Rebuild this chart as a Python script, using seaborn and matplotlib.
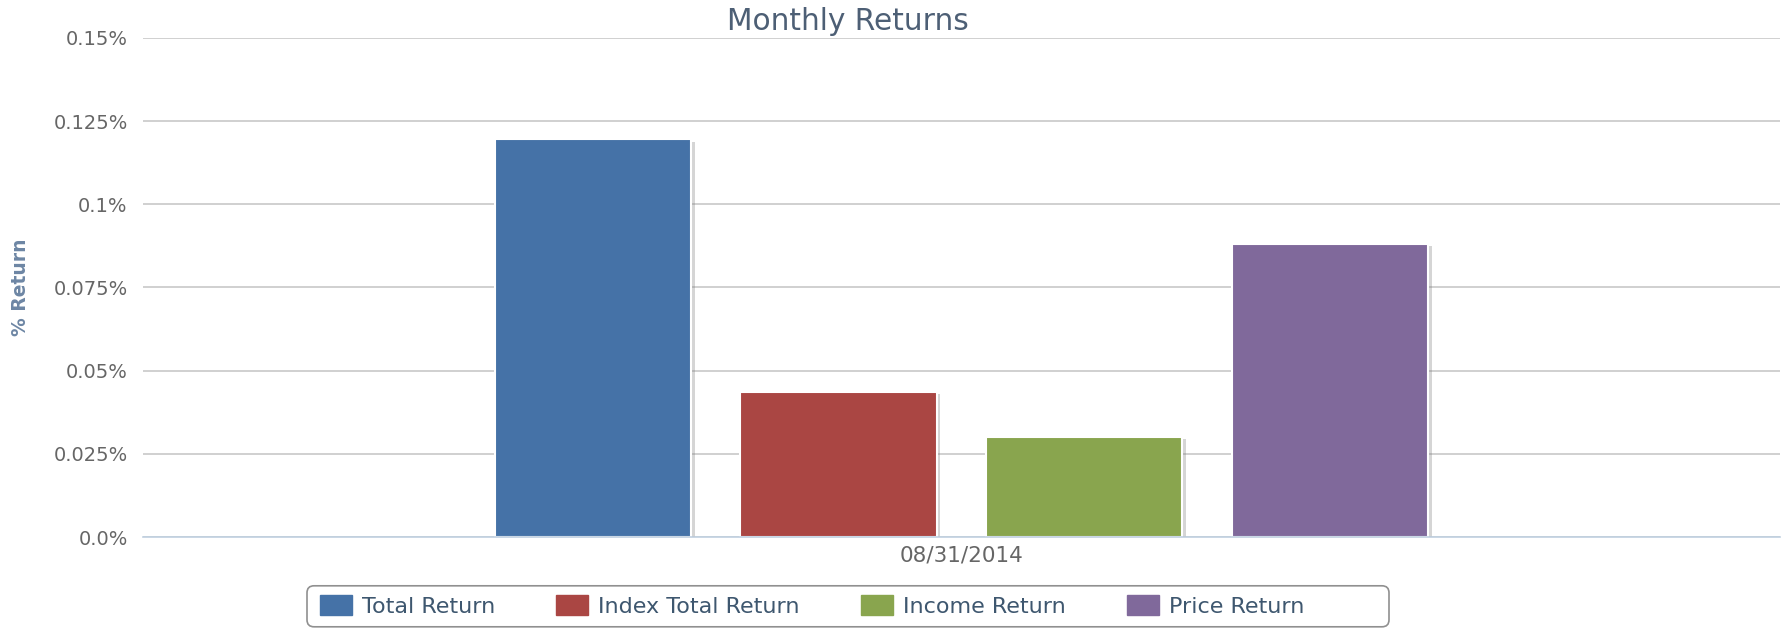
import pandas as pd
import matplotlib
matplotlib.use('Agg')
import matplotlib.pyplot as plt
import matplotlib.patheffects as pe
from matplotlib.patches import Patch, FancyBboxPatch
import seaborn as sns

# Chart data (values in %)
dates = ['08/31/2014']
series = ['Total Return', 'Index Total Return', 'Income Return', 'Price Return']
returns = [0.1195, 0.0435, 0.0300, 0.0882]
colors = ['#4572a7', '#aa4643', '#89a54e', '#80699b']
y_ticks = [0.0, 0.025, 0.05, 0.075, 0.1, 0.125, 0.15]
y_tick_labels = ['0.0%', '0.025%', '0.05%', '0.075%', '0.1%', '0.125%', '0.15%']

df = pd.DataFrame({'Date': dates * len(series), 'Series': series, 'Return': returns})

sns.set_style('white')
plt.rcParams['font.family'] = ['DejaVu Sans']

fig = plt.figure(figsize=(17.82, 6.28), dpi=100)
ax = fig.add_axes([0.0802, 0.1449, 0.9187, 0.7946])

sns.barplot(data=df, x='Date', y='Return', hue='Series', hue_order=series,
            palette=colors, saturation=1, width=0.6, gap=0.2, edgecolor='white',
            linewidth=1.5, legend=False, ax=ax)

# soft shadow round the bars
for bar in ax.patches:
    bar.set_path_effects([pe.SimplePatchShadow(offset=(2.5, -1.5), shadow_rgbFace='#777777', alpha=0.3),
                          pe.Normal()])

ax.set_xlim(-0.5, 0.5)
ax.set_ylim(0, 0.15)
ax.set_yticks(y_ticks)
ax.set_yticklabels(y_tick_labels, color='#666666', fontsize=14)
ax.tick_params(axis='y', length=0, pad=11)
ax.tick_params(axis='x', length=0, pad=6, labelsize=15.5, labelcolor='#666666')
ax.yaxis.grid(True, color='#c8c8c8', linewidth=1.2)
ax.set_axisbelow(True)
for s in ['top', 'right', 'left']:
    ax.spines[s].set_visible(False)
ax.spines['bottom'].set_color('#c0d0e0')
ax.spines['bottom'].set_linewidth(1.2)

ax.set_xlabel('')
ax.set_ylabel('% Return', color='#6d86a4', fontsize=13.5, fontweight='bold')
ax.yaxis.set_label_coords(-0.069, 0.5)

fig.text(0.476, 0.966, 'Monthly Returns', ha='center', va='center',
         fontsize=21.3, color='#4d5f75')

# legend entries, with a separate rounded frame (wider on the right, like the original)
handles = [Patch(facecolor=c, edgecolor=c, label=s) for c, s in zip(colors, series)]
leg = fig.legend(handles=handles, loc='center', bbox_to_anchor=(0.4557, 0.035), ncol=4,
                 frameon=False, fontsize=16,
                 handlelength=1.45, handleheight=1.0, columnspacing=2.75, handletextpad=0.45,
                 borderpad=0.45)
for t in leg.get_texts():
    t.set_color('#3e576f')

frame = FancyBboxPatch((3.07, 0.012), 10.82, 0.41, boxstyle='round,pad=0,rounding_size=0.07',
                       transform=fig.dpi_scale_trans, facecolor='none', edgecolor='#909090',
                       linewidth=1.2)
fig.patches.append(frame)

fig.savefig('out.png', dpi=100)
